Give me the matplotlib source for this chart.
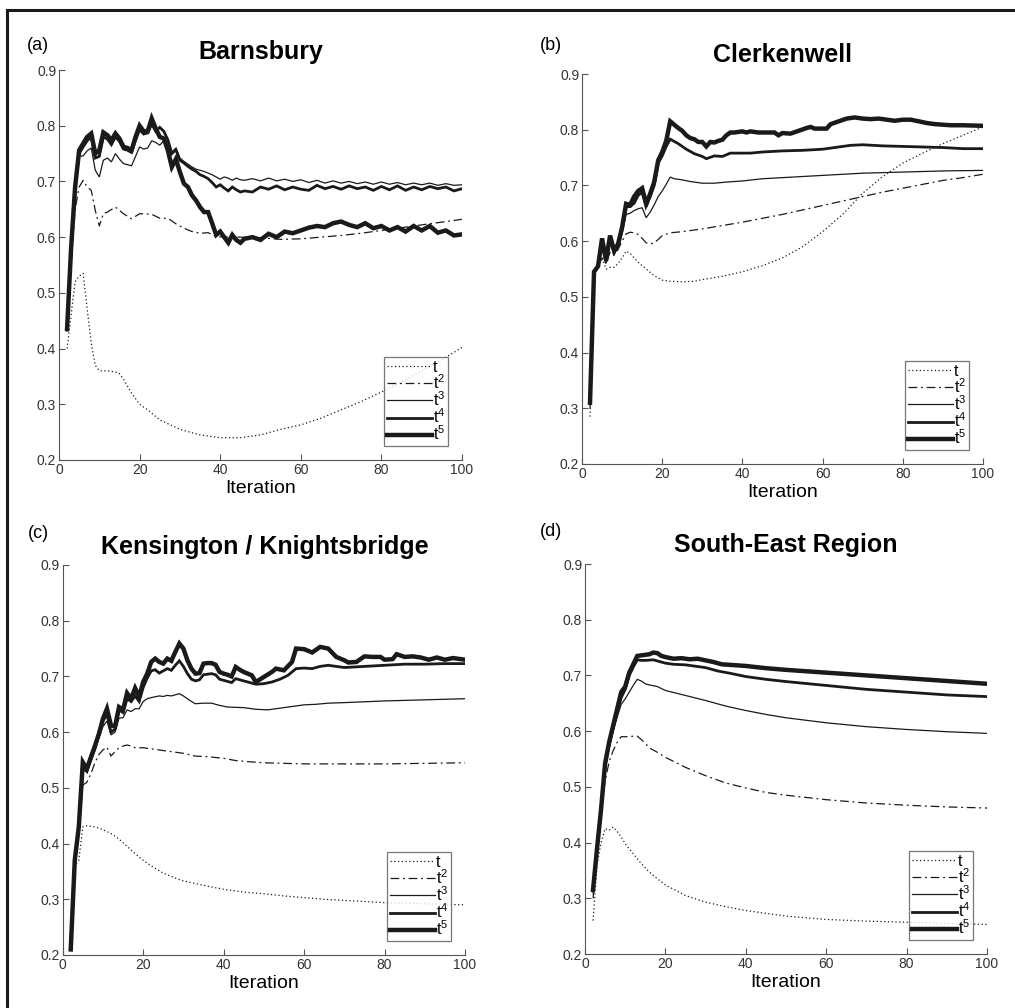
import matplotlib
matplotlib.use("Agg")
import matplotlib.pyplot as plt
from matplotlib.lines import Line2D

plt.rcParams["font.family"] = ["Liberation Sans", "DejaVu Sans"]
plt.rcParams["mathtext.default"] = "regular"

# ---- (a) Barnsbury ----
a_x_jag = list(range(2, 46)) + list(range(46, 101, 2))
a_t5 = [0.435, 0.58, 0.69, 0.756, 0.768, 0.78, 0.786, 0.75, 0.756, 0.788, 0.783, 0.774, 0.786, 0.777,
        0.762, 0.76, 0.756, 0.78, 0.8, 0.79, 0.79, 0.813, 0.795, 0.78, 0.777, 0.756, 0.726, 0.74, 0.717,
        0.696, 0.69, 0.675, 0.666, 0.654, 0.645, 0.645, 0.625, 0.604, 0.61, 0.6, 0.59, 0.604, 0.595, 0.59,
        0.597, 0.6, 0.595, 0.606, 0.6, 0.61, 0.607, 0.612, 0.617, 0.62, 0.618, 0.625, 0.628, 0.622,
        0.618, 0.625, 0.616, 0.62, 0.612, 0.618, 0.61, 0.62, 0.612, 0.62, 0.608, 0.612, 0.603, 0.605]
a_t4 = [0.435, 0.58, 0.69, 0.75, 0.762, 0.773, 0.78, 0.742, 0.745, 0.78, 0.776, 0.766, 0.78, 0.772,
        0.758, 0.756, 0.752, 0.774, 0.793, 0.785, 0.787, 0.803, 0.79, 0.797, 0.79, 0.775, 0.75, 0.757,
        0.738, 0.733, 0.727, 0.722, 0.718, 0.712, 0.709, 0.705, 0.698, 0.69, 0.694, 0.688, 0.683, 0.69,
        0.685, 0.681,
        0.683, 0.681, 0.69, 0.686, 0.692, 0.685, 0.69, 0.686, 0.684, 0.693, 0.687, 0.691, 0.686, 0.692,
        0.687, 0.69, 0.684, 0.691, 0.685, 0.692, 0.684, 0.69, 0.685, 0.691, 0.687, 0.69, 0.683, 0.687]
a_t3 = [0.435, 0.6, 0.7, 0.745, 0.746, 0.755, 0.76, 0.72, 0.708, 0.738, 0.742, 0.735, 0.75, 0.74,
        0.732, 0.73, 0.728, 0.745, 0.762, 0.758, 0.76, 0.773, 0.77, 0.765, 0.773, 0.762, 0.752, 0.76,
        0.742, 0.736, 0.731, 0.726, 0.722, 0.72, 0.718, 0.715, 0.712, 0.708, 0.704, 0.708, 0.706, 0.702,
        0.706, 0.703,
        0.702, 0.705, 0.701, 0.706, 0.701, 0.704, 0.7, 0.703, 0.698, 0.702, 0.697, 0.701, 0.697, 0.7,
        0.696, 0.699, 0.695, 0.699, 0.695, 0.698, 0.694, 0.697, 0.694, 0.697, 0.693, 0.696, 0.693, 0.694]
a_x_t2 = [2, 3, 4, 5, 6, 7, 8, 9, 10, 11, 12, 14, 16, 18, 20, 23, 25, 27, 29, 31, 33, 35, 37, 39, 42,
          45, 50, 55, 60, 65, 70, 75, 80, 85, 90, 95, 100]
a_t2 = [0.43, 0.55, 0.65, 0.69, 0.702, 0.69, 0.684, 0.648, 0.62, 0.642, 0.645, 0.654, 0.642, 0.633,
        0.642, 0.641, 0.634, 0.634, 0.624, 0.616, 0.61, 0.607, 0.608, 0.601, 0.6, 0.6, 0.599, 0.596,
        0.597, 0.6, 0.603, 0.607, 0.612, 0.617, 0.622, 0.627, 0.632]
a_x_t1 = [2, 3, 4, 5, 6, 7, 8, 9, 10, 12, 14, 15, 16, 18, 20, 22, 25, 30, 35, 40, 45, 50, 55, 60, 65,
          70, 75, 80, 85, 90, 95, 100]
a_t1 = [0.4, 0.46, 0.52, 0.53, 0.535, 0.47, 0.41, 0.37, 0.36, 0.36, 0.358, 0.355, 0.345, 0.32, 0.3,
        0.29, 0.272, 0.255, 0.245, 0.24, 0.24, 0.245, 0.255, 0.263, 0.275, 0.29, 0.305, 0.322, 0.34,
        0.36, 0.38, 0.402]

# ---- (b) Clerkenwell ----
b_x_early = list(range(2, 23))
b_t5_early = [0.31, 0.545, 0.555, 0.605, 0.565, 0.61, 0.583, 0.595, 0.625, 0.667, 0.665, 0.68, 0.69,
              0.695, 0.667, 0.685, 0.706, 0.745, 0.76, 0.78, 0.815]
b_x_t5_late = [24, 25, 26, 27, 28, 29, 30, 31, 32, 33, 34, 35, 36, 37, 38, 40, 41, 42, 44, 46, 48, 49,
               50, 52, 54, 56, 57, 58, 60, 61, 62, 64, 66, 68, 70, 72, 74, 76, 78, 80, 82, 84, 86, 88,
               90, 92, 95, 100]
b_t5_late = [0.803, 0.798, 0.79, 0.785, 0.783, 0.778, 0.778, 0.77, 0.778, 0.777, 0.78, 0.782, 0.79,
             0.795, 0.795, 0.797, 0.795, 0.797, 0.795, 0.795, 0.795, 0.79, 0.794, 0.793, 0.798, 0.803,
             0.805, 0.802, 0.802, 0.802, 0.81, 0.815, 0.82, 0.822, 0.82, 0.819, 0.82, 0.818, 0.816,
             0.818, 0.818, 0.815, 0.812, 0.81, 0.809, 0.808, 0.808, 0.807]
b_t4_early = [0.31, 0.545, 0.555, 0.6, 0.563, 0.607, 0.58, 0.592, 0.62, 0.662, 0.662, 0.668, 0.682,
              0.688, 0.662, 0.68, 0.7, 0.74, 0.753, 0.77, 0.783]
b_x_t4_late = [24, 26, 28, 30, 31, 33, 35, 37, 40, 42, 45, 50, 55, 60, 63, 67, 70, 75, 80, 85, 90, 95,
               100]
b_t4_late = [0.775, 0.765, 0.757, 0.752, 0.748, 0.753, 0.752, 0.758, 0.758, 0.758, 0.76, 0.762, 0.763,
             0.765, 0.768, 0.772, 0.773, 0.771, 0.77, 0.769, 0.768, 0.766, 0.766]
b_x_t3 = [2, 3, 4, 5, 6, 7, 8, 9, 10, 11, 12, 13, 14, 15, 16, 17, 18, 19, 20, 21, 22, 23, 25, 27, 30,
          33, 36, 40, 45, 50, 55, 60, 65, 70, 75, 80, 85, 90, 100]
b_t3 = [0.31, 0.545, 0.555, 0.595, 0.56, 0.6, 0.575, 0.59, 0.615, 0.648, 0.65, 0.655, 0.658, 0.66,
        0.642, 0.652, 0.665, 0.68, 0.69, 0.702, 0.715, 0.712, 0.71, 0.707, 0.704, 0.704, 0.706, 0.708,
        0.712, 0.714, 0.716, 0.718, 0.72, 0.722, 0.723, 0.724, 0.725, 0.726, 0.727]
b_x_t2 = [2, 3, 4, 5, 6, 7, 8, 9, 10, 11, 12, 13, 14, 15, 16, 17, 18, 19, 20, 22, 25, 30, 35, 40, 45,
          50, 55, 60, 65, 70, 75, 80, 85, 90, 95, 100]
b_t2 = [0.3, 0.545, 0.555, 0.57, 0.56, 0.58, 0.575, 0.585, 0.6, 0.613, 0.616, 0.615, 0.612, 0.605,
        0.597, 0.595, 0.597, 0.603, 0.61, 0.615, 0.617, 0.622, 0.628, 0.634, 0.641, 0.648, 0.656,
        0.664, 0.672, 0.68, 0.688, 0.695, 0.702, 0.709, 0.714, 0.72]
b_x_t1 = [2, 3, 4, 5, 6, 7, 8, 9, 10, 11, 12, 13, 14, 16, 18, 20, 22, 25, 28, 30, 35, 40, 45, 50, 55,
          60, 65, 70, 75, 80, 85, 90, 95, 100]
b_t1 = [0.285, 0.54, 0.555, 0.57, 0.55, 0.553, 0.553, 0.56, 0.57, 0.582, 0.578, 0.57, 0.562, 0.55,
        0.538, 0.53, 0.528, 0.527, 0.528, 0.531, 0.537, 0.545, 0.556, 0.57, 0.59, 0.617, 0.648, 0.686,
        0.716, 0.74, 0.758, 0.775, 0.79, 0.805]

# ---- (c) Kensington / Knightsbridge ----
c_x_jag = list(range(2, 46)) + [47, 48, 50, 52, 53, 55, 57, 58, 60, 62, 64, 66, 68, 70, 71, 73, 75,
                                 77, 79, 80, 82, 83, 85, 87, 89, 91, 93, 95, 97, 100]
c_t5 = [0.21, 0.37, 0.43, 0.546, 0.534, 0.555, 0.575, 0.597, 0.624, 0.642, 0.612, 0.61, 0.645, 0.64,
        0.67, 0.66, 0.679, 0.664, 0.69, 0.705, 0.726, 0.732, 0.726, 0.723, 0.732, 0.728, 0.744, 0.759,
        0.75, 0.729, 0.714, 0.705, 0.706, 0.723, 0.724, 0.724, 0.721, 0.708, 0.705, 0.703, 0.7, 0.717,
        0.712, 0.708,
        0.702, 0.69, 0.699, 0.708, 0.714, 0.711, 0.726, 0.75, 0.749, 0.743, 0.753, 0.75, 0.735, 0.729,
        0.725, 0.726, 0.736, 0.735, 0.735, 0.73, 0.731, 0.74, 0.735, 0.736, 0.734, 0.73, 0.734, 0.73,
        0.733, 0.73]
c_x_t4 = list(range(2, 41)) + [42, 43, 45, 47, 48, 50, 52, 54, 56, 58, 60, 62, 64, 66, 70, 75, 80,
                               85, 90, 95, 100]
c_t4 = [0.21, 0.37, 0.43, 0.54, 0.53, 0.55, 0.57, 0.595, 0.62, 0.632, 0.6, 0.605, 0.64, 0.635, 0.66,
        0.655, 0.665, 0.655, 0.68, 0.697, 0.71, 0.712, 0.706, 0.71, 0.714, 0.711, 0.72, 0.728, 0.718,
        0.705, 0.695, 0.692, 0.694, 0.703, 0.704, 0.705, 0.703, 0.695, 0.693,
        0.689, 0.696, 0.692, 0.688, 0.686, 0.687, 0.69, 0.695, 0.702, 0.714, 0.715, 0.714, 0.718, 0.72,
        0.716, 0.718, 0.72, 0.722, 0.722, 0.723, 0.723]
c_x_t3 = list(range(2, 23)) + [24, 25, 26, 27, 28, 29, 30, 31, 32, 33, 35, 37, 39, 41, 45, 48, 51, 54,
                               57, 60, 63, 66, 70, 80, 90, 100]
c_t3 = [0.21, 0.37, 0.43, 0.53, 0.53, 0.55, 0.57, 0.59, 0.61, 0.62, 0.595, 0.6, 0.625, 0.626, 0.64,
        0.637, 0.642, 0.642, 0.655, 0.66, 0.662, 0.665, 0.664, 0.666, 0.665, 0.667, 0.669, 0.665,
        0.66, 0.655, 0.651, 0.652, 0.652, 0.648, 0.645, 0.644, 0.641, 0.64, 0.643, 0.646, 0.649, 0.65,
        0.652, 0.653, 0.656, 0.658, 0.66]
c_x_t2 = [2, 3, 4, 5, 6, 7, 8, 9, 10, 11, 12, 13, 14, 15, 16, 17, 18, 20, 22, 25, 28, 30, 33, 36, 40,
          43, 46, 50, 55, 60, 70, 80, 90, 100]
c_t2 = [0.21, 0.37, 0.42, 0.505, 0.51, 0.525, 0.545, 0.56, 0.568, 0.573, 0.557, 0.565, 0.572, 0.575,
        0.577, 0.575, 0.572, 0.572, 0.57, 0.567, 0.564, 0.562, 0.557, 0.556, 0.553, 0.549, 0.547,
        0.545, 0.544, 0.543, 0.543, 0.543, 0.544, 0.545]
c_x_t1 = [2, 3, 4, 5, 6, 8, 10, 12, 14, 16, 18, 20, 22, 25, 28, 30, 35, 40, 45, 50, 55, 60, 65, 70,
          75, 80, 85, 90, 95, 100]
c_t1 = [0.21, 0.36, 0.37, 0.43, 0.432, 0.43, 0.425, 0.418, 0.408, 0.395, 0.382, 0.37, 0.36, 0.347,
        0.338, 0.333, 0.325, 0.318, 0.313, 0.31, 0.306, 0.303, 0.3, 0.298, 0.296, 0.294, 0.293, 0.292,
        0.291, 0.29]

# ---- (d) South-East Region ----
d_x_t5 = [2, 3, 4, 5, 6, 7, 8, 9, 10, 11, 12, 13, 14, 15, 16, 17, 18, 19, 20, 22, 24, 26, 28, 30, 32,
          34, 40, 45, 50, 60, 70, 80, 90, 100]
d_t5 = [0.315, 0.39, 0.46, 0.542, 0.58, 0.61, 0.64, 0.67, 0.68, 0.705, 0.72, 0.735, 0.736, 0.737,
        0.738, 0.741, 0.74, 0.735, 0.733, 0.73, 0.731, 0.729, 0.73, 0.727, 0.724, 0.72, 0.717, 0.713,
        0.71, 0.705, 0.7, 0.695, 0.69, 0.685]
d_x_t4 = [2, 3, 4, 5, 6, 7, 8, 9, 10, 11, 12, 13, 14, 15, 17, 18, 20, 22, 25, 28, 30, 33, 36, 40, 45,
          50, 60, 70, 80, 90, 100]
d_t4 = [0.315, 0.39, 0.46, 0.54, 0.575, 0.605, 0.635, 0.66, 0.675, 0.7, 0.715, 0.728, 0.727, 0.727,
        0.728, 0.726, 0.722, 0.72, 0.719, 0.716, 0.714, 0.708, 0.704, 0.698, 0.693, 0.689, 0.682,
        0.675, 0.67, 0.665, 0.662]
d_x_t3 = [2, 3, 4, 5, 6, 7, 8, 9, 10, 11, 12, 13, 14, 15, 16, 18, 20, 25, 30, 35, 40, 45, 50, 60, 70,
          80, 90, 100]
d_t3 = [0.31, 0.38, 0.45, 0.53, 0.57, 0.6, 0.625, 0.648, 0.658, 0.67, 0.682, 0.693, 0.69, 0.685,
        0.683, 0.68, 0.673, 0.664, 0.655, 0.645, 0.637, 0.63, 0.624, 0.615, 0.608, 0.603, 0.599, 0.596]
d_x_t2 = [2, 3, 4, 5, 6, 7, 8, 9, 10, 11, 12, 13, 14, 15, 16, 18, 20, 25, 30, 35, 40, 45, 50, 60, 70,
          80, 90, 100]
d_t2 = [0.3, 0.38, 0.45, 0.51, 0.545, 0.565, 0.58, 0.59, 0.59, 0.59, 0.591, 0.591, 0.585, 0.578, 0.57,
        0.562, 0.553, 0.535, 0.52, 0.507, 0.498, 0.49, 0.485, 0.477, 0.471, 0.467, 0.464, 0.462]
d_x_t1 = [2, 3, 4, 5, 6, 7, 8, 9, 10, 12, 14, 16, 18, 20, 25, 30, 35, 40, 45, 50, 60, 70, 80, 90, 100]
d_t1 = [0.26, 0.36, 0.4, 0.425, 0.422, 0.428, 0.42, 0.41, 0.398, 0.38, 0.362, 0.347, 0.335, 0.324,
        0.305, 0.293, 0.285, 0.278, 0.273, 0.268, 0.262, 0.259, 0.257, 0.255, 0.253]

labels = ["t", "$t^2$", "$t^3$", "$t^4$", "$t^5$"]
styles = [dict(ls=(0, (1, 2)), lw=0.9), dict(ls=(0, (7, 3, 1.5, 3)), lw=0.9),
          dict(ls="-", lw=0.9), dict(ls="-", lw=2.0), dict(ls="-", lw=3.2)]
ink = "#1a1a1a"

W, H = 1015, 1008
fig = plt.figure(figsize=(W / 100, H / 100), dpi=100)


def make_panel(rect, letter, title, letter_xy, title_xy, series):
    ax = fig.add_axes([rect[0] / W, 1 - rect[1] / H, (rect[2] - rect[0]) / W, (rect[1] - rect[3]) / H])
    handles = []
    for i, parts in enumerate(series):
        for j, (xs, ys) in enumerate(parts):
            ln, = ax.plot(xs, ys, color=ink, solid_joinstyle="miter", **styles[i])
            if j == 0:
                handles.append(ln)
    ax.set_xlim(0, 100)
    ax.set_ylim(0.2, 0.9)
    ax.set_xticks([0, 20, 40, 60, 80, 100])
    ax.set_yticks([0.2, 0.3, 0.4, 0.5, 0.6, 0.7, 0.8, 0.9])
    ax.set_yticklabels(["0.2", "0.3", "0.4", "0.5", "0.6", "0.7", "0.8", "0.9"])
    for s in ["top", "right"]:
        ax.spines[s].set_visible(False)
    for s in ["left", "bottom"]:
        ax.spines[s].set_color("#555555")
        ax.spines[s].set_linewidth(0.8)
    ax.tick_params(direction="in", length=4, width=0.8, color="#555555", labelsize=10,
                   labelcolor="#333333", pad=2)
    ax.set_xlabel("Iteration", fontsize=14, labelpad=2)
    leg = ax.legend(handles, labels, loc="lower right", fontsize=11.5, frameon=True, fancybox=False,
                    handlelength=2.8, handletextpad=0.05, labelspacing=-0.1, borderpad=0.2,
                    borderaxespad=0.85)
    leg.get_frame().set_edgecolor("#555555")
    leg.get_frame().set_linewidth(0.9)
    fig.text(letter_xy[0] / W, 1 - letter_xy[1] / H, letter, fontsize=13, va="center", ha="left")
    fig.text(title_xy[0] / W, 1 - title_xy[1] / H, title, fontsize=18, fontweight="bold",
             va="center", ha="center")
    return ax


make_panel((59, 460, 462, 70), "(a)", "Barnsbury", (27, 45), (261, 52),
           [[(a_x_t1, a_t1)], [(a_x_t2, a_t2)], [(a_x_jag, a_t3)], [(a_x_jag, a_t4)],
            [(a_x_jag, a_t5)]])
make_panel((582, 464, 983, 74), "(b)", "Clerkenwell", (540, 45), (782, 55),
           [[(b_x_t1, b_t1)], [(b_x_t2, b_t2)], [(b_x_t3, b_t3)],
            [(b_x_early + b_x_t4_late, b_t4_early + b_t4_late)],
            [(b_x_early + b_x_t5_late, b_t5_early + b_t5_late)]])
make_panel((62.7, 955, 465, 565), "(c)", "Kensington / Knightsbridge", (28, 533), (265, 547),
           [[(c_x_t1, c_t1)], [(c_x_t2, c_t2)], [(c_x_t3, c_t3)], [(c_x_t4, c_t4)],
            [(c_x_jag, c_t5)]])
make_panel((585, 954, 987, 564), "(d)", "South-East Region", (540, 532), (786, 545),
           [[(d_x_t1, d_t1)], [(d_x_t2, d_t2)], [(d_x_t3, d_t3)], [(d_x_t4, d_t4)],
            [(d_x_t5, d_t5)]])

# frame lines along the top and left edge
fig.add_artist(Line2D([7 / W, 1], [1 - 9.5 / H, 1 - 9.5 / H], color=ink, lw=2.2))
fig.add_artist(Line2D([7 / W, 7 / W], [0, 1 - 9.5 / H], color=ink, lw=2.2))

fig.savefig("out.png", dpi=100)
